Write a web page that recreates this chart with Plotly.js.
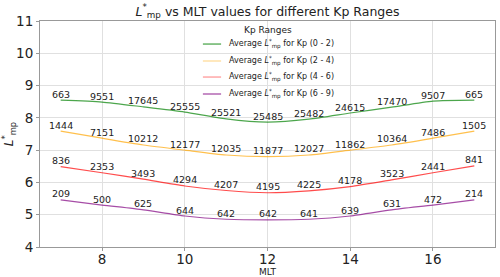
<!DOCTYPE html>
<html>
<head>
<meta charset="utf-8">
<script src="https://cdn.plot.ly/plotly-3.0.1.min.js"></script>
<style>html,body{margin:0;padding:0;background:#fff}#chart{width:500px;height:277px}</style>
</head>
<body>
<div id="chart"></div>
<script>
const mlt = [7, 8, 9, 10, 11, 12, 13, 14, 15, 16, 17];
const kp02 = [8.55, 8.49, 8.34, 8.18, 7.97, 7.87, 7.96, 8.15, 8.33, 8.52, 8.55];
const kp24 = [7.59, 7.37, 7.16, 7.00, 6.85, 6.80, 6.85, 7.00, 7.16, 7.37, 7.59];
const kp46 = [6.49, 6.30, 6.10, 5.89, 5.75, 5.68, 5.74, 5.87, 6.08, 6.30, 6.51];
const kp69 = [5.46, 5.30, 5.15, 4.96, 4.86, 4.84, 4.86, 4.96, 5.15, 5.30, 5.46];
const cnt02 = [663, 9551, 17645, 25555, 25521, 25485, 25482, 24615, 17470, 9507, 665];
const cnt24 = [1444, 7151, 10212, 12177, 12035, 11877, 12027, 11862, 10364, 7486, 1505];
const cnt46 = [836, 2353, 3493, 4294, 4207, 4195, 4225, 4178, 3523, 2441, 841];
const cnt69 = [209, 500, 625, 644, 642, 642, 641, 639, 631, 472, 214];
const names = ["Average <i>L</i><sup>*</sup><sub>mp</sub> for Kp (0 - 2)",
               "Average <i>L</i><sup>*</sup><sub>mp</sub> for Kp (2 - 4)",
               "Average <i>L</i><sup>*</sup><sub>mp</sub> for Kp (4 - 6)",
               "Average <i>L</i><sup>*</sup><sub>mp</sub> for Kp (6 - 9)"];
const legendTitle = "Kp Ranges";
const colors = ["rgba(0,128,0,0.7)", "rgba(255,165,0,0.7)", "rgba(255,0,0,0.7)", "rgba(128,0,128,0.7)"];
const legendColors = ["rgba(0,128,0,0.6)", "rgba(255,165,0,0.35)", "rgba(255,0,0,0.35)", "rgba(128,0,128,0.6)"];

const series = [kp02, kp24, kp46, kp69];
const counts = [cnt02, cnt24, cnt46, cnt69];

const traces = series.map((s, i) => ({
  x: mlt, y: s, type: 'scatter', mode: 'lines', name: names[i],
  line: {color: colors[i], width: 1.2, shape: 'spline', smoothing: 0.6}
}));

const annotations = [];
series.forEach((s, i) => {
  s.forEach((v, j) => {
    annotations.push({x: mlt[j], y: v, xref: 'x', yref: 'y', text: String(counts[i][j]),
      showarrow: false, yshift: 6, font: {size: 9.5, color: '#222', family: 'DejaVu Sans'}});
  });
});

// legend (drawn in paper coordinates)
const shapes = [{type: 'rect', xref: 'paper', yref: 'paper', x0: 0.322, x1: 0.670, y0: 0.648, y1: 0.995,
                 fillcolor: 'rgba(255,255,255,0.95)', line: {width: 0}, layer: 'between'}];
annotations.push({xref: 'paper', yref: 'paper', x: 0.501, y: 0.960, text: legendTitle, showarrow: false,
                  xanchor: 'center', yanchor: 'middle', font: {size: 9, color: '#222'}});
const rowY = [0.898, 0.823, 0.752, 0.677];
names.forEach((n, i) => {
  shapes.push({type: 'line', xref: 'paper', yref: 'paper', x0: 0.358, x1: 0.398, y0: rowY[i], y1: rowY[i],
               line: {color: legendColors[i], width: 1.5}});
  annotations.push({xref: 'paper', yref: 'paper', x: 0.411, y: rowY[i], text: n, showarrow: false,
                    xanchor: 'left', yanchor: 'middle', font: {size: 8, color: '#222'}});
});

const layout = {
  width: 500, height: 277,
  margin: {l: 40, r: 5, t: 21, b: 30},
  paper_bgcolor: '#fff', plot_bgcolor: '#fff',
  font: {family: 'DejaVu Sans', color: '#222'},
  title: {text: '<i>L</i><sup>*</sup><sub>mp</sub> vs MLT values for different Kp Ranges',
          xref: 'paper', x: 0.5, xanchor: 'center', y: 0.975, yanchor: 'top', font: {size: 12.5, color: '#222'}},
  xaxis: {range: [6.5, 17.5], tickvals: [8, 10, 12, 14, 16], ticktext: ['8','10','12','14','16'],
          showgrid: true, gridcolor: '#e0e0e0', gridwidth: 1, zeroline: false,
          showline: true, linecolor: '#999', mirror: true, ticks: 'outside', ticklen: 3, tickcolor: '#999',
          ticklabelstandoff: -3,
          tickfont: {size: 13.5, color: '#222'},
          title: {text: 'MLT', font: {size: 9, color: '#222'}, standoff: 0}},
  yaxis: {range: [4, 11], dtick: 1, showgrid: true, gridcolor: '#e0e0e0', gridwidth: 1, zeroline: false,
          showline: true, linecolor: '#999', mirror: true, ticks: 'outside', ticklen: 3, tickcolor: '#999',
          tickfont: {size: 13.5, color: '#222'},
          title: {text: '<i>L</i><sup>*</sup><sub>mp</sub>', font: {size: 12, color: '#222'}, standoff: 6}},
  showlegend: false,
  shapes: shapes,
  annotations: annotations
};

Plotly.newPlot('chart', traces, layout, {staticPlot: true, displayModeBar: false});
</script>
</body>
</html>
